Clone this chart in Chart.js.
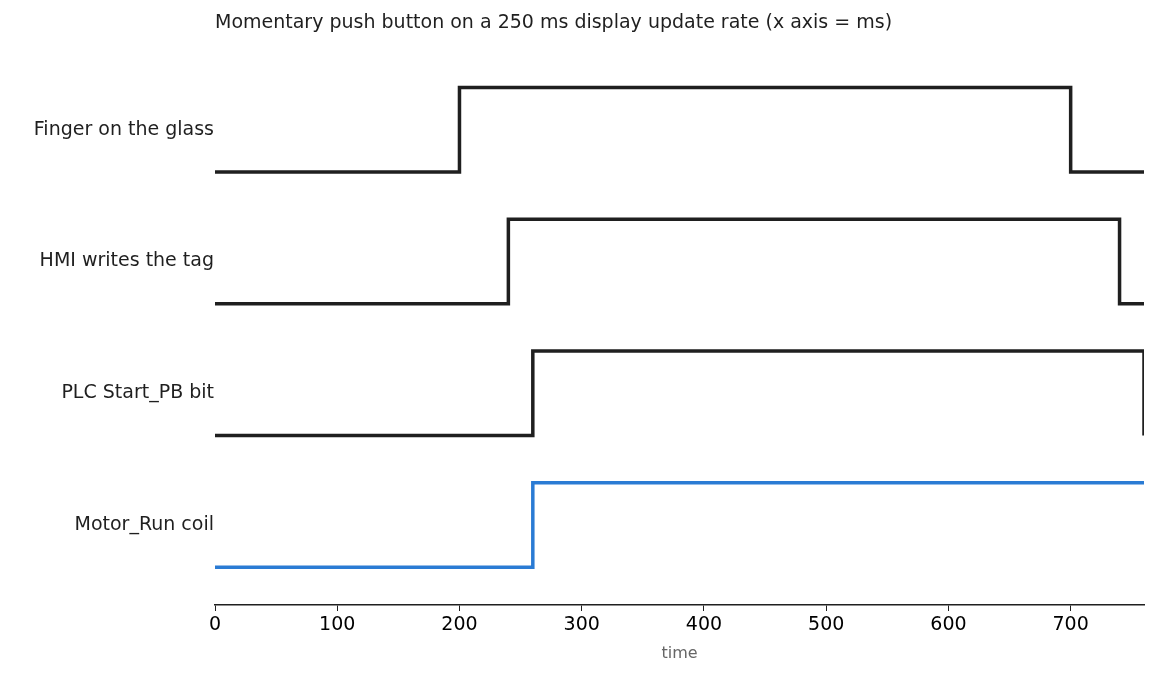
<!DOCTYPE html>
<html><head><meta charset="utf-8">
<script src="https://cdn.jsdelivr.net/npm/chart.js@4/dist/chart.umd.min.js"></script>
<style>html,body{margin:0;padding:0;background:#fff}#w{width:1159px;height:675px}</style>
</head><body><div id="w"><canvas id="c"></canvas></div>
<script>
const signals = ["Finger on the glass","HMI writes the tag","PLC Start_PB bit","Motor_Run coil"];
const riseTimes = [200, 240, 260, 260];
const fallTimes = [700, 740, 760, null];
const colors = ["#1f1f1f","#1f1f1f","#1f1f1f","#2a7bd4"];
const xEnd = 760;
const xTicks = [0,100,200,300,400,500,600,700];
const titleText = "Momentary push button on a 250 ms display update rate (x axis = ms)";

const spacing = 1.56, high = 1;
const bases = signals.map((s,i)=>(signals.length-1-i)*spacing);
const datasets = signals.map((s,i)=>{
  const b = bases[i], h = b+high, pts=[{x:0,y:b},{x:riseTimes[i],y:b},{x:riseTimes[i],y:h}];
  if (fallTimes[i]!==null){pts.push({x:fallTimes[i],y:h},{x:fallTimes[i],y:b});if(fallTimes[i]<xEnd)pts.push({x:xEnd,y:b});}
  else pts.push({x:xEnd,y:h});
  return {label:s,data:pts,borderColor:colors[i],borderWidth:3.5,pointRadius:0,fill:false,tension:0,borderJoinStyle:'miter',borderCapStyle:'butt'};
});
const FONT = '"DejaVu Sans"';
const titlePlugin={id:'tp',afterDraw(ch){const c=ch.ctx;c.save();c.font='19px '+FONT;c.fillStyle='#1f1f1f';c.textBaseline='middle';c.fillText(titleText,ch.chartArea.left,23);c.restore();}};
new Chart(document.getElementById('c'),{
  type:'line',data:{datasets},plugins:[titlePlugin],
  options:{responsive:true,maintainAspectRatio:false,animation:false,
    layout:{padding:{left:0,right:15,top:52,bottom:12}},
    plugins:{legend:{display:false},tooltip:{enabled:false}},
    scales:{
      x:{type:'linear',min:0,max:xEnd,
        afterBuildTicks(s){s.ticks=xTicks.map(v=>({value:v}));},
        ticks:{color:'#000',font:{size:19,family:'DejaVu Sans'},padding:3,maxRotation:0},
        grid:{drawOnChartArea:false,tickLength:6,color:'#1f1f1f'},
        border:{color:'#1f1f1f',width:1.5},
        title:{display:true,text:'time',color:'#666',font:{size:16,family:'DejaVu Sans'},padding:{top:4,bottom:0}}},
      y:{type:'linear',min:-0.446,max:6.1,
        afterBuildTicks(s){s.ticks=bases.map(b=>({value:b+high/2}));},
        afterFit(s){s.width=215;},
        ticks:{padding:1,color:'#1f1f1f',font:{size:19,family:'DejaVu Sans'},
          callback(v){const i=bases.findIndex(b=>Math.abs(b+high/2-v)<1e-6);return i>=0?signals[i]:'';}},
        grid:{display:false,drawTicks:false},border:{display:false}}
    }}
});
</script></body></html>
